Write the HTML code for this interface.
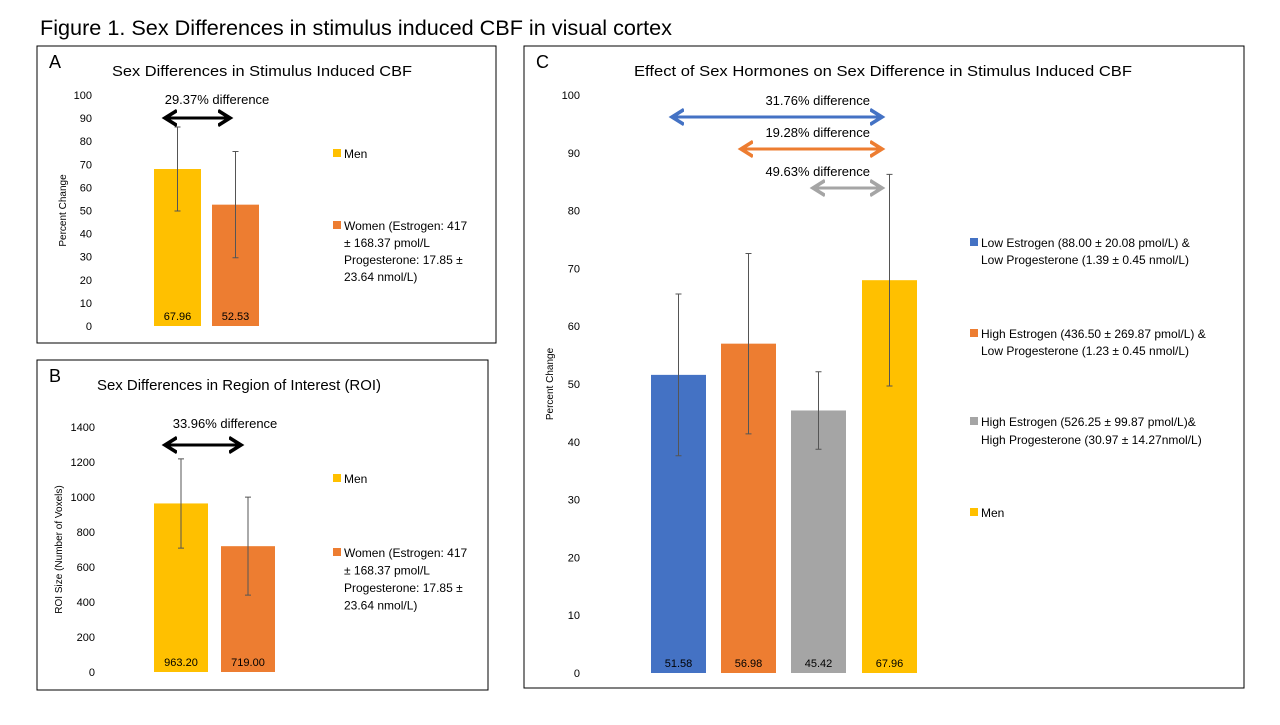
<!DOCTYPE html>
<html><head><meta charset="utf-8"><style>
body{margin:0;background:#fff;width:1280px;height:720px;overflow:hidden;font-family:"Liberation Sans",sans-serif}
svg text{font-family:"Liberation Sans",sans-serif}
</style></head><body>
<svg width="1280" height="720" id="s">
<defs>
<marker id="ak" markerWidth="6" markerHeight="6" refX="4" refY="3" orient="auto-start-reverse"><path d="M0,0.5 L4,3 L0,5.5" fill="none" stroke="context-stroke" stroke-width="1.2"/></marker>
</defs>
<text x="40" y="35" font-size="21" textLength="632" lengthAdjust="spacingAndGlyphs" fill="#000">Figure 1. Sex Differences in  stimulus induced CBF in visual cortex</text>
<g id="g"></g>
</svg>
<script>
const aCats=["Men","Women"], aVals=[67.96,52.53], aErr=[18.2,23.0];
const aTicks=[0,10,20,30,40,50,60,70,80,90,100];
const bVals=[963.20,719.00], bErr=[255,280];
const bTicks=[0,200,400,600,800,1000,1200,1400];
const cCats=["Low Estrogen","High Estrogen Low Prog","High Estrogen High Prog","Men"];
const cVals=[51.58,56.98,45.42,67.96], cErr=[14,15.6,6.7,18.3];
const cTicks=[0,10,20,30,40,50,60,70,80,90,100];
const NS="http://www.w3.org/2000/svg", G=document.getElementById('g');
function el(t,a,txt){const e=document.createElementNS(NS,t);for(const k in a)e.setAttribute(k,a[k]);if(txt!=null)e.textContent=txt;G.appendChild(e);return e;}
function panel(p){
  const r=el('rect',{x:p.box[0],y:p.box[1],width:p.box[2],height:p.box[3],fill:'none',stroke:'#000','stroke-width':1});
  
  let t=el('text',{x:p.box[0]+12,y:p.box[1]+22,'font-size':18},p.letter);
  
  t=el('text',{x:p.tx-p.tw/2,y:p.box[1]+30,'font-size':15,textLength:p.tw,lengthAdjust:'spacingAndGlyphs'},p.title);
  
  const y=v=>p.y0-(v-0)/(p.max)*(p.y0-p.y1);
  p.ticks.forEach(v=>{const tt=el('text',{x:p.tickX,y:y(v)+4,'font-size':11,'text-anchor':'end'},v);
    });
  t=el('text',{x:0,y:0,'font-size':10,'text-anchor':'middle',transform:`translate(${p.axX},${(p.y0+p.y1)/2}) rotate(-90)`},p.ytitle);
  
  p.vals.forEach((v,i)=>{
    const x=p.bx[i],w=p.bw;
    const b=el('rect',{x:x,y:y(v),width:w,height:p.y0-y(v),fill:p.cols[i]});
    
    const cx=x+w/2,hi=y(v+p.err[i]),lo=y(v-p.err[i]);
    const e=el('path',{d:`M${cx},${hi}V${lo}M${cx-3},${hi}H${cx+3}M${cx-3},${lo}H${cx+3}`,stroke:'#555','stroke-width':1,fill:'none'});
    
    const l=el('text',{x:cx,y:p.y0-6,'font-size':11,'text-anchor':'middle'},v.toFixed(2));
    
  });
  p.arrows.forEach(a=>{
    const ln=el('line',{x1:a[0],x2:a[1],y1:a[2],y2:a[2],stroke:a[3],'stroke-width':3,'marker-start':'url(#ak)','marker-end':'url(#ak)'});
    
    const tx=el('text',{x:a[4],y:a[5],'font-size':13,'text-anchor':a[6]},a[7]);
    
  });
  p.legend.forEach(L=>{
    const sq=el('rect',{x:p.lx,y:L.y-9,width:8,height:8,fill:L.c});
    
    L.lines.forEach((s,j)=>{const tt=el('text',{x:p.lx+11,y:L.y+j*L.lh,'font-size':L.fs},s);
      });
  });
}
const Y='#ffc000',O='#ed7d31',B='#4472c4',Gr='#a5a5a5';
const wLines=["Women (Estrogen: 417","± 168.37 pmol/L","Progesterone: 17.85 ±","23.64 nmol/L)"];
panel({id:'a',letter:'A',box:[37,46,459,297],tx:262,tw:300,title:'Sex Differences in Stimulus Induced CBF',
 y0:326,y1:95,max:100,ticks:aTicks,tickX:92,axX:66,ytitle:'Percent Change',vals:aVals,err:aErr,
 bx:[154,212],bw:47,cols:[Y,O],arrows:[[165,230,118,'#000',217,104,'middle','29.37% difference']],
 lx:333,legend:[{y:158,c:Y,lines:['Men'],lh:17,fs:12},{y:230,c:O,lines:wLines,lh:17,fs:12}]});
panel({id:'b',letter:'B',box:[37,360,451,330],tx:239,tw:284,title:'Sex Differences in Region of Interest (ROI)',
 y0:672,y1:427,max:1400,ticks:bTicks,tickX:95,axX:62,ytitle:'ROI Size (Number of Voxels)',vals:bVals,err:bErr,
 bx:[154,221],bw:54,cols:[Y,O],arrows:[[165,241,445,'#000',225,428,'middle','33.96% difference']],
 lx:333,legend:[{y:483,c:Y,lines:['Men'],lh:17,fs:12},{y:557,c:O,lines:wLines,lh:17.5,fs:12}]});
panel({id:'c',letter:'C',box:[524,46,720,642],tx:883,tw:498,title:'Effect of Sex Hormones on Sex Difference in Stimulus Induced CBF',
 y0:673,y1:95,max:100,ticks:cTicks,tickX:580,axX:553,ytitle:'Percent Change',vals:cVals,err:cErr,
 bx:[651,721,791,862],bw:55,cols:[B,O,Gr,Y],
 arrows:[[672,882,117,B,870,105,'end','31.76% difference'],[741,882,149,O,870,137,'end','19.28% difference'],[813,882,188,Gr,870,176,'end','49.63% difference']],
 lx:970,legend:[{y:247,c:B,lines:['Low Estrogen (88.00 ± 20.08 pmol/L) &','Low Progesterone (1.39 ± 0.45 nmol/L)'],lh:17,fs:12},
  {y:338,c:O,lines:['High Estrogen (436.50 ± 269.87 pmol/L) &','Low Progesterone (1.23 ± 0.45 nmol/L)'],lh:17,fs:12},
  {y:426,c:Gr,lines:['High Estrogen (526.25 ± 99.87 pmol/L)&','High Progesterone (30.97 ± 14.27nmol/L)'],lh:18,fs:12},
  {y:517,c:Y,lines:['Men'],lh:17,fs:12}]});
</script>
</body></html>
